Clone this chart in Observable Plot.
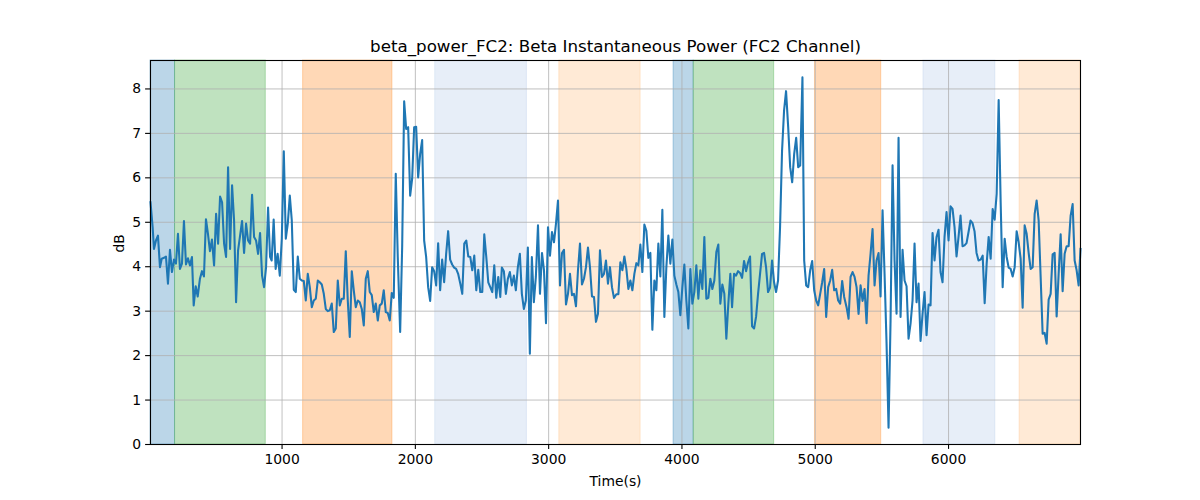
<!DOCTYPE html>
<html>
<head>
<meta charset="utf-8">
<script src="https://cdn.jsdelivr.net/npm/d3@7"></script>
<script src="https://cdn.jsdelivr.net/npm/@observablehq/plot@0.6"></script>
<style>
  html, body { margin: 0; padding: 0; background: white; }
  #chart svg { display: block; }
</style>
</head>
<body>
<div id="chart"></div>
<script>
const titleText = "beta_power_FC2: Beta Instantaneous Power (FC2 Channel)";
const xLabel = "Time(s)";
const yLabel = "dB";
const xTicks = [1000, 2000, 3000, 4000, 5000, 6000];
const yTicks = [0, 1, 2, 3, 4, 5, 6, 7, 8];

const times = [
  13, 29, 39, 54, 69, 84, 97, 114, 129, 144, 159, 174, 189, 204, 219, 234, 249, 264, 279, 294, 309, 324, 337, 352, 367, 384, 399, 414, 429, 444, 459, 474, 490, 505, 520, 535, 550, 565, 580, 595, 610, 625, 640, 655, 670, 685, 700, 715, 730, 745, 760, 775, 790, 805, 820, 835, 850, 865, 880, 895, 910,
  922, 937, 952, 967, 983, 998, 1013, 1028, 1043, 1058, 1073, 1088, 1103, 1118, 1133, 1148, 1163, 1178, 1193, 1208, 1223, 1238, 1253, 1268, 1283, 1298, 1313, 1328, 1343, 1358, 1373, 1388, 1403, 1418, 1433, 1448, 1463, 1478, 1493, 1508, 1523, 1538, 1553, 1568, 1583, 1598, 1613, 1628, 1643, 1658, 1673, 1688, 1703, 1718, 1733, 1748, 1763,
  1778, 1793, 1808, 1823, 1838, 1853, 1868, 1886, 1901, 1916, 1931, 1946, 1961, 1976, 1991, 2006, 2021, 2036, 2051, 2066, 2081, 2096, 2111, 2126, 2141, 2156, 2171, 2186, 2201, 2216, 2231, 2246, 2261, 2276, 2291, 2306, 2321, 2337, 2352, 2367, 2382, 2397, 2412, 2427, 2442, 2457, 2472, 2487, 2502, 2517, 2532, 2547, 2562, 2577, 2592, 2607, 2622, 2637,
  2649, 2664, 2679, 2694, 2709, 2724, 2739, 2754, 2769, 2784, 2799, 2814, 2829, 2844, 2859, 2874, 2889, 2904, 2920, 2935, 2950, 2965, 2980, 2995, 3010, 3025, 3040, 3055, 3070, 3085, 3100, 3115, 3130, 3145, 3160, 3175, 3190, 3205, 3220, 3235, 3250, 3265, 3280, 3295, 3310, 3325, 3340, 3355, 3370, 3385, 3400, 3415, 3430, 3445, 3460, 3475, 3490,
  3508, 3523, 3538, 3553, 3568, 3583, 3598, 3613, 3628, 3643, 3658, 3673, 3688, 3703, 3718, 3733, 3748, 3763, 3778, 3793, 3808, 3823, 3838, 3853, 3868, 3883, 3898, 3913, 3928, 3943, 3958, 3973, 3988, 4003, 4018, 4033, 4048, 4063, 4078, 4093, 4108, 4123, 4138, 4153, 4168, 4183, 4198, 4213, 4228, 4243, 4258, 4273, 4288, 4303, 4318, 4333, 4348, 4363,
  4376, 4391, 4406, 4421, 4436, 4451, 4466, 4481, 4496, 4511, 4526, 4541, 4556, 4571, 4586, 4601, 4616, 4631, 4646, 4661, 4676, 4691, 4706, 4721, 4736, 4751, 4766, 4781, 4797, 4812, 4827, 4842, 4857, 4872, 4887, 4904, 4917, 4932, 4947, 4962, 4977, 4992, 5007, 5022, 5037, 5052, 5067, 5082, 5097, 5112, 5127, 5142, 5157, 5172, 5187, 5202, 5217,
  5235, 5250, 5265, 5280, 5295, 5310, 5325, 5340, 5355, 5370, 5385, 5400, 5415, 5430, 5445, 5460, 5475, 5490, 5505, 5520, 5535, 5550, 5565, 5580, 5595, 5610, 5625, 5640, 5655, 5670, 5685, 5700, 5715, 5730, 5745, 5760, 5775, 5790, 5805, 5820, 5835, 5850, 5865, 5880, 5895, 5910, 5925, 5940, 5955, 5970, 5985, 6000, 6015, 6030, 6045, 6060, 6075, 6090,
  6105, 6120, 6135, 6150, 6165, 6180, 6195, 6210, 6225, 6241, 6256, 6271, 6286, 6301, 6316, 6331, 6346, 6361, 6376, 6391, 6406, 6421, 6436, 6451, 6466, 6481, 6496, 6511, 6526, 6541, 6556, 6571, 6586, 6601, 6616, 6631, 6646, 6661, 6676, 6691, 6706, 6721, 6736, 6751, 6766, 6781, 6796, 6811, 6826, 6841, 6856, 6871, 6886, 6901, 6916, 6931, 6946, 6961, 6976, 6990
];

const power = [
  5.45, 4.89, 4.40, 4.59, 4.70, 3.99, 4.18, 4.20, 4.23, 3.62, 4.38, 3.88, 4.16, 4.07, 4.74, 3.95, 4.07, 5.03, 4.05, 4.19, 4.03, 4.22, 3.13, 3.56, 3.33, 3.73, 3.90, 3.78, 5.07, 4.74, 4.35, 4.61, 4.03, 5.19, 4.52, 5.58, 5.45, 4.52, 4.22, 6.24, 4.40, 5.83, 5.04, 3.20, 4.37, 4.70, 5.03, 4.31, 4.97, 4.59, 4.52, 5.62, 4.67, 4.59, 4.29, 4.76, 3.80, 3.54, 3.99, 5.33, 4.22,
  4.14, 5.06, 3.95, 4.29, 3.80, 4.63, 6.60, 4.63, 4.97, 5.60, 5.04, 3.48, 3.43, 4.23, 3.73, 3.69, 3.68, 3.24, 3.84, 3.54, 3.09, 3.24, 3.28, 3.69, 3.65, 3.60, 3.39, 3.05, 3.00, 3.02, 3.17, 2.53, 2.61, 3.69, 3.13, 3.28, 3.28, 4.35, 3.24, 2.42, 3.90, 3.47, 3.09, 3.24, 3.20, 3.05, 2.68, 3.73, 3.90, 3.43, 3.36, 2.98, 3.17, 2.79, 3.13, 3.17, 3.47,
  2.98, 2.96, 2.79, 3.41, 3.30, 6.09, 4.22, 2.53, 4.44, 7.72, 7.10, 7.14, 5.60, 5.98, 7.14, 7.15, 6.01, 6.54, 6.85, 4.59, 4.22, 3.54, 3.23, 3.99, 3.90, 3.58, 4.53, 3.47, 4.16, 3.65, 4.29, 4.80, 4.16, 4.05, 3.98, 3.95, 3.84, 3.62, 3.39, 4.52, 4.59, 4.23, 4.22, 3.92, 4.25, 3.47, 3.93, 3.43, 3.43, 4.73, 4.22, 3.65, 3.54, 3.43, 4.03, 3.30, 3.77, 3.32,
  3.98, 3.90, 3.39, 3.73, 3.88, 3.58, 3.80, 3.47, 3.99, 4.29, 3.39, 3.05, 3.24, 4.43, 2.04, 4.22, 3.20, 3.77, 4.93, 3.39, 4.31, 3.92, 2.73, 4.89, 4.25, 4.78, 4.55, 4.97, 5.49, 3.58, 4.31, 4.38, 3.15, 3.39, 3.84, 3.36, 3.39, 3.11, 3.92, 4.52, 3.60, 3.73, 3.99, 4.43, 3.99, 3.33, 3.32, 2.76, 2.94, 4.37, 3.77, 3.84, 4.14, 3.62, 3.99, 3.54, 3.30,
  3.38, 3.38, 4.10, 3.92, 4.23, 3.95, 3.50, 3.69, 3.47, 3.84, 4.08, 4.03, 4.50, 3.88, 4.95, 4.81, 4.20, 4.31, 2.58, 3.69, 3.47, 4.52, 3.78, 5.28, 2.87, 3.99, 4.70, 4.07, 4.61, 3.80, 3.60, 3.43, 2.91, 3.54, 4.05, 3.24, 2.61, 3.95, 3.17, 3.43, 4.03, 3.28, 3.92, 3.50, 4.67, 3.28, 3.30, 3.73, 3.50, 3.69, 4.33, 4.50, 3.17, 3.60, 3.39, 2.38, 3.17, 3.84,
  3.09, 3.84, 3.80, 3.90, 3.86, 3.75, 4.13, 3.90, 4.10, 4.23, 2.66, 2.61, 2.87, 3.39, 3.84, 4.29, 4.31, 3.99, 3.43, 3.53, 4.14, 3.65, 3.43, 3.69, 4.89, 6.61, 7.51, 7.95, 7.14, 6.24, 5.90, 6.54, 6.90, 6.24, 6.28, 8.26, 4.14, 3.58, 3.54, 3.92, 4.13, 3.47, 3.24, 3.13, 3.39, 3.65, 3.95, 2.87, 3.54, 3.69, 3.93, 3.47, 3.50, 3.24, 3.17, 3.68, 3.32,
  3.09, 2.83, 3.77, 3.88, 3.77, 3.54, 2.94, 3.58, 3.23, 3.50, 2.73, 3.80, 4.29, 4.85, 3.58, 4.14, 4.31, 3.33, 5.27, 3.84, 2.27, 0.38, 2.79, 6.28, 4.14, 2.94, 6.90, 2.87, 4.38, 3.69, 3.56, 2.38, 2.72, 3.24, 4.52, 3.20, 3.62, 2.33, 2.94, 3.43, 2.46, 3.15, 3.13, 4.76, 4.14, 4.67, 4.83, 3.88, 3.65, 4.67, 5.23, 4.59, 5.36, 5.30, 4.89, 4.23, 4.67, 5.15,
  4.46, 4.48, 4.53, 4.78, 5.04, 4.98, 4.80, 4.31, 4.14, 4.16, 4.25, 3.18, 4.07, 4.67, 4.18, 5.30, 5.06, 5.64, 7.75, 5.45, 3.54, 4.63, 4.22, 3.98, 3.95, 3.78, 3.99, 4.80, 4.55, 4.18, 3.08, 4.93, 4.74, 4.31, 3.95, 3.99, 5.19, 5.49, 5.04, 3.77, 2.49, 2.51, 2.27, 3.26, 3.39, 4.28, 4.31, 2.88, 3.84, 4.73, 3.45, 4.29, 4.46, 4.46, 5.15, 5.41, 4.14, 3.92, 3.58, 4.40
];

// shaded intervals (seconds) and their category
const regionStart = [13, 197, 1158, 2149, 3080, 3937, 4088, 4998, 5812, 6533];
const regionEnd   = [197, 878, 1828, 2837, 3690, 4088, 4692, 5495, 6351, 6990];
const regionKind  = ["S1", "S2", "S3", "S4", "S5", "S1", "S2", "S3", "S4", "S5"];

const kinds = ["S1", "S2", "S3", "S4", "S5"];
const kindColor = {S1: "#1f77b4", S2: "#2ca02c", S3: "#ff7f0e", S4: "#aec7e8", S5: "#ffbb78"};

const series = times.map((t, i) => ({t, v: power[i]}));
const regions = regionStart.map((s, i) => ({x1: s, x2: regionEnd[i], kind: regionKind[i]}));

const font = "'DejaVu Sans', sans-serif";

const chart = Plot.plot({
  width: 1200,
  height: 500,
  marginLeft: 150,
  marginRight: 120,
  marginTop: 60,
  marginBottom: 56,
  style: {fontFamily: font, fontSize: "13.9px", background: "white", color: "black", overflow: "visible"},
  x: {domain: [13, 6990]},
  y: {domain: [0, 8.64]},
  marks: [
    ...kinds.map(k => Plot.rect(regions.filter(d => d.kind === k), {
      x1: "x1", x2: "x2",
      fill: kindColor[k], fillOpacity: 0.3,
      stroke: kindColor[k], strokeOpacity: 0.3, strokeWidth: 1
    })),
    Plot.gridX(xTicks, {stroke: "#b0b0b0", strokeOpacity: 1, strokeWidth: 0.8}),
    Plot.gridY(yTicks, {stroke: "#b0b0b0", strokeOpacity: 1, strokeWidth: 0.8}),
    Plot.line(series, {x: "t", y: "v", stroke: "#1f77b4", strokeWidth: 2.08, strokeLinejoin: "round", strokeLinecap: "square"}),
    Plot.frame({stroke: "black", strokeWidth: 1.1}),
    Plot.axisX(xTicks, {tickSize: 4.9, tickPadding: 4.5, tickFormat: d3.format("d"), label: null, fontSize: 13.9, strokeWidth: 1.1}),
    Plot.axisY(yTicks, {tickSize: 4.9, tickPadding: 4.5, tickFormat: d3.format("d"), label: null, fontSize: 13.9, strokeWidth: 1.1}),
    Plot.text([titleText], {frameAnchor: "top", lineAnchor: "middle", dy: -14, fontSize: 16.7, fill: "black"}),
    Plot.text([xLabel], {frameAnchor: "bottom", lineAnchor: "middle", dy: 37, fontSize: 13.9, fill: "black"}),
    Plot.text([yLabel], {frameAnchor: "left", lineAnchor: "middle", dx: -31, rotate: -90, fontSize: 13.9, fill: "black"})
  ]
});

document.getElementById("chart").appendChild(chart);
</script>
</body>
</html>
